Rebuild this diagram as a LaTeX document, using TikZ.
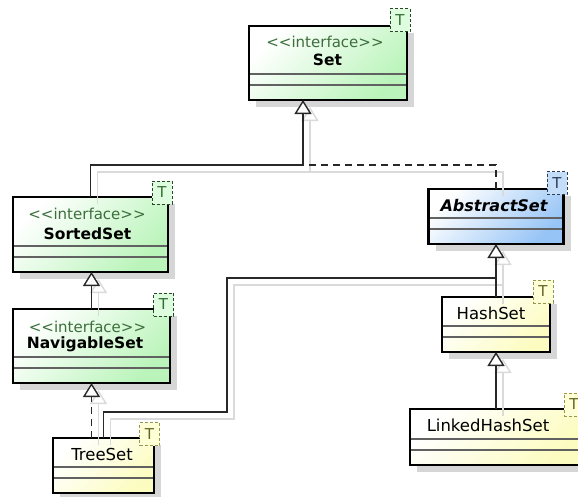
\documentclass[tikz,border=0pt]{standalone}
\usepackage{fontspec}
\setmainfont{DejaVu Sans}
\usetikzlibrary{arrows.meta,shadows,calc}

\definecolor{grnend}{RGB}{186,244,186}
\definecolor{bluend}{RGB}{150,196,246}
\definecolor{yelend}{RGB}{252,252,192}
\definecolor{grnT}{RGB}{222,252,222}
\definecolor{bluT}{RGB}{196,222,250}
\definecolor{yelT}{RGB}{255,255,214}
\definecolor{grnTline}{RGB}{40,70,40}
\definecolor{grnTtxt}{RGB}{50,110,50}
\definecolor{bluTline}{RGB}{45,60,90}
\definecolor{yelTline}{RGB}{150,150,80}
\definecolor{yelTtxt}{RGB}{100,100,40}
\definecolor{stereotxt}{RGB}{60,110,60}
\definecolor{conline}{RGB}{40,40,40}
\definecolor{conshade}{RGB}{218,218,218}
\definecolor{boxshade}{RGB}{214,214,214}

\newcommand\compartments[1]{%
  \draw[compline] ($(#1.south west)+(1.3,-26)$) -- ($(#1.south east)+(-1.3,-26)$);
  \draw[compline] ($(#1.south west)+(1.3,-15)$) -- ($(#1.south east)+(-1.3,-15)$);}

\begin{document}
\begin{tikzpicture}[x=1pt,y=-1pt,
  umlbox/.style={draw=black, line width=2.6pt, inner sep=0pt, outer sep=0pt,
    drop shadow={shadow xshift=7pt, shadow yshift=-7pt, fill=boxshade, opacity=1}},
  greenbox/.style={umlbox, top color=white, bottom color=grnend, shading angle=45},
  bluebox/.style={umlbox, top color=white, bottom color=bluend, shading angle=45},
  yellowbox/.style={umlbox, top color=white, bottom color=yelend, shading angle=45},
  compline/.style={draw=black!62, line width=1.5pt},
  stereo/.style={anchor=base, inner sep=0pt, text=stereotxt, font=\fontsize{15}{18}\selectfont},
  cname/.style={anchor=base, inner sep=0pt, font=\bfseries\fontsize{15.5}{18}\selectfont},
  cnameit/.style={anchor=base, inner sep=0pt, font=\bfseries\itshape\fontsize{16}{18}\selectfont},
  cnamereg/.style={anchor=base, inner sep=0pt, font=\fontsize{16.5}{18}\selectfont},
  tbox/.style={dashed, dash pattern=on 3pt off 2pt, line width=1pt, minimum width=20pt,
    minimum height=23pt, inner sep=0pt, font=\fontsize{15}{15}\selectfont},
  greenT/.style={tbox, draw=grnTline, fill=grnT, text=grnTtxt},
  blueT/.style={tbox, draw=bluTline, fill=bluT, text=bluTline},
  yellowT/.style={tbox, draw=yelTline, fill=yelT, text=yelTtxt},
  con/.style={draw=conline, line width=1.4pt},
  realize/.style={dash pattern=on 7pt off 5pt},
  genarrow/.style={-{Triangle[open, length=14pt, width=17pt, fill=white]}},
  conshadow/.style={draw=conshade, line width=1.4pt, solid}
]
\useasboundingbox (0,0) rectangle (578,496);
\fill[white] (0,0) rectangle (578,496);
\clip (0,0) rectangle (578,496);

% class boxes
\node[greenbox, minimum width=158pt, minimum height=74pt] (set) at (328,63) {};
\node[greenbox, minimum width=155pt, minimum height=75pt] (sorted) at (90.5,234.5) {};
\node[greenbox, minimum width=157pt, minimum height=74pt] (nav) at (91.5,346) {};
\node[bluebox, minimum width=135pt, minimum height=55pt] (abstract) at (496,216.5) {};
\node[yellowbox, minimum width=108pt, minimum height=55pt] (hash) at (496,324.5) {};
\node[yellowbox, minimum width=101pt, minimum height=55pt] (tree) at (103.5,465.5) {};
\node[yellowbox, minimum width=172pt, minimum height=56pt] (lhs) at (496,437) {};

\compartments{set}
\compartments{sorted}
\compartments{nav}
\compartments{abstract}
\compartments{hash}
\compartments{tree}
\compartments{lhs}

% class texts
\node[stereo] (setst) at (325,47) {{<}{<}interface{>}{>}};
\node[cname] (setnm) at (327.5,65) {Set};
\node[stereo] (sortedst) at (87,219) {{<}{<}interface{>}{>}};
\node[cname] (sortednm) at (87.5,239) {SortedSet};
\node[stereo] (navst) at (87.5,332) {{<}{<}interface{>}{>}};
\node[cname] (navnm) at (85,348) {NavigableSet};
\node[cnameit] (abstractnm) at (494,211) {AbstractSet};
\node[cnamereg] (hashnm) at (491,319) {HashSet};
\node[cnamereg] (treenm) at (102,460) {TreeSet};
\node[cnamereg] (lhsnm) at (488,431) {LinkedHashSet};

% type parameter markers
\node[greenT] (setT) at (400,20) {T};
\node[greenT] (sortedT) at (162,192.5) {T};
\node[greenT] (navT) at (163.5,304.5) {T};
\node[blueT] (abstractT) at (557,183) {T};
\node[yellowT] (hashT) at (543,291.5) {T};
\node[yellowT] (treeT) at (149.5,434) {T};
\node[yellowT] (lhsT) at (574,404.5) {T};

% connector bends
\coordinate (setin) at ($(set.south west)+(54,0)$);
\coordinate (setjoin) at ($(setin)+(0,65)$);
\coordinate (bendlow) at (227,412);
\coordinate (bendhigh) at (227,278);

% connector shadows, offset on the canvas
\begin{scope}[transform canvas={xshift=7pt, yshift=-7pt}]
  \draw[conshadow] (sorted.north) |- (setjoin);
  \draw[conshadow] (abstract.north) |- (setjoin);
  \draw[conshadow, genarrow] (setjoin) -- (setin);
  \draw[conshadow, genarrow] (nav.north) -- (nav.north |- sorted.south);
  \draw[conshadow, genarrow] (nav.south |- tree.north) -- (nav.south);
  \draw[conshadow] (tree.north) |- (bendlow) -- (bendhigh) -- (bendhigh -| abstract.south);
  \draw[conshadow, genarrow] (hash.north) -- (abstract.south);
  \draw[conshadow, genarrow] (lhs.north) -- (hash.south);
\end{scope}

% connectors
\draw[con] (sorted.north) |- (setjoin);
\draw[con, realize] (abstract.north) |- (setjoin);
\draw[con, genarrow] (setjoin) -- (setin);
\draw[con, genarrow] (nav.north) -- (nav.north |- sorted.south);
\draw[con, realize, genarrow] (nav.south |- tree.north) -- (nav.south);
\draw[con] (tree.north) |- (bendlow) -- (bendhigh) -- (bendhigh -| abstract.south);
\draw[con, genarrow] (hash.north) -- (abstract.south);
\draw[con, genarrow] (lhs.north) -- (hash.south);
\end{tikzpicture}
\end{document}
